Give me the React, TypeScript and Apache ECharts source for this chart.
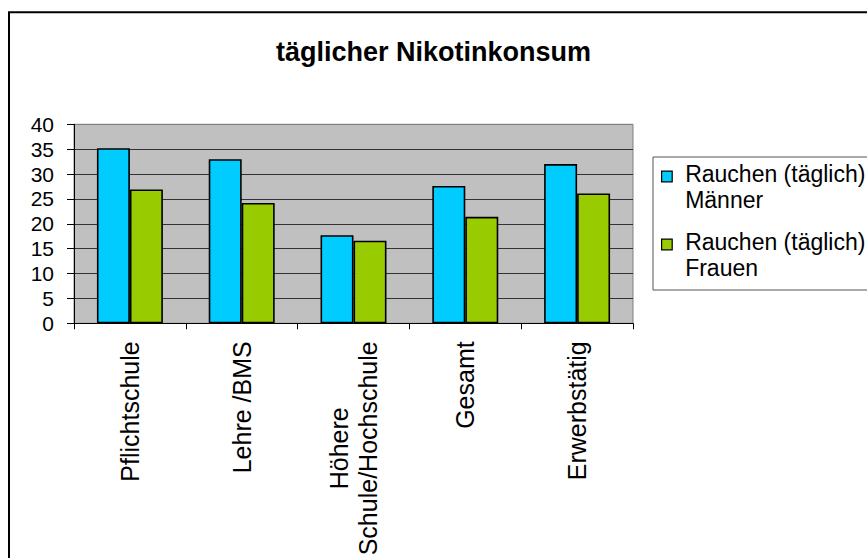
import React, { useEffect, useRef } from 'react';
import * as echarts from 'echarts';

const categories = ['Pflichtschule', 'Lehre /BMS', 'Höhere\nSchule/Hochschule', 'Gesamt', 'Erwerbstätig'];
const seriesNames = ['Rauchen (täglich) Männer', 'Rauchen (täglich) Frauen'];
const maenner = [35.2, 33.0, 17.7, 27.6, 32.0];
const frauen = [26.9, 24.2, 16.6, 21.4, 26.1];
const titleText = 'täglicher Nikotinkonsum';

const FONT = '"Liberation Sans", Arial, Helvetica, sans-serif';

export default function App() {
  const ref = useRef<HTMLDivElement>(null);
  useEffect(() => {
    if (!ref.current) return;
    const chart = echarts.init(ref.current, null, { renderer: 'svg' });
    const gridLineColors = ['#333', '#333', '#333', '#333', '#333', '#333', '#333', '#333', '#808080'];
    chart.setOption({
      animation: false,
      backgroundColor: '#fff',
      textStyle: { fontFamily: FONT },
      title: {
        text: titleText,
        left: 'center',
        top: 38,
        padding: 0,
        textStyle: { fontFamily: FONT, fontSize: 27, fontWeight: 'bold', color: '#000' },
      },
      graphic: [
        {
          type: 'rect',
          silent: true,
          shape: { x: 9, y: 12.3, width: 900, height: 600 },
          style: { fill: null, stroke: '#000', lineWidth: 2 },
        },
      ],
      legend: {
        orient: 'vertical',
        left: 653,
        top: 157,
        padding: [4, 40, 9, 8],
        itemGap: 16,
        itemWidth: 18.55,
        itemHeight: 31.6,
        icon: 'path://M0,0H10V10H0Z M17.5,29.8',
        selectedMode: false,
        backgroundColor: '#fff',
        borderColor: '#555',
        borderWidth: 1,
        itemStyle: { borderColor: '#000', borderWidth: 1.2 },
        formatter: (name: string) => name.replace(' Männer', '\nMänner').replace(' Frauen', '\nFrauen'),
        textStyle: { fontFamily: FONT, fontSize: 23, lineHeight: 26, color: '#000' },
      },
      grid: {
        left: 74,
        right: 234,
        top: 124.3,
        bottom: 234.7,
        show: true,
        backgroundColor: '#C0C0C0',
        borderColor: '#808080',
        borderWidth: 1,
        containLabel: false,
        outerBoundsMode: 'none',
      },
      xAxis: {
        type: 'category',
        data: categories,
        boundaryGap: true,
        axisLine: { show: true, lineStyle: { color: '#000', width: 1 } },
        axisTick: { show: true, length: 6, alignWithLabel: false, lineStyle: { color: '#000' } },
        splitLine: { show: false },
        axisLabel: {
          interval: 0,
          rotate: 90,
          margin: 18,
          fontFamily: FONT,
          fontSize: 25,
          lineHeight: 29,
          color: '#000',
          formatter: (v: string) =>
            v.indexOf('\n') >= 0 ? v.split('\n').map((s) => `{c|${s}}`).join('\n') : v,
          rich: {
            c: { align: 'center', fontFamily: FONT, fontSize: 25, lineHeight: 29, color: '#000' },
          },
        },
      },
      yAxis: {
        type: 'value',
        min: 0,
        max: 40,
        interval: 5,
        axisLine: { show: true, lineStyle: { color: '#000', width: 1 } },
        axisTick: { show: true, length: 7, lineStyle: { color: '#000' } },
        splitLine: { show: true, lineStyle: { color: gridLineColors, width: 1 } },
        axisLabel: { margin: 20, fontFamily: FONT, fontSize: 21, color: '#000' },
      },
      series: [
        {
          name: seriesNames[0],
          type: 'bar',
          data: maenner,
          barGap: '0%',
          barCategoryGap: '41%',
          itemStyle: { color: '#00CCFF', borderColor: '#000', borderWidth: 1.6 },
        },
        {
          name: seriesNames[1],
          type: 'bar',
          data: frauen,
          barGap: '0%',
          barCategoryGap: '41%',
          itemStyle: { color: '#99CC00', borderColor: '#000', borderWidth: 1.6 },
        },
      ],
    });
    return () => chart.dispose();
  }, []);
  return (
    <div
      ref={ref}
      style={{ position: 'fixed', left: 0, top: 0, width: 867, height: 558, background: '#fff' }}
    />
  );
}
